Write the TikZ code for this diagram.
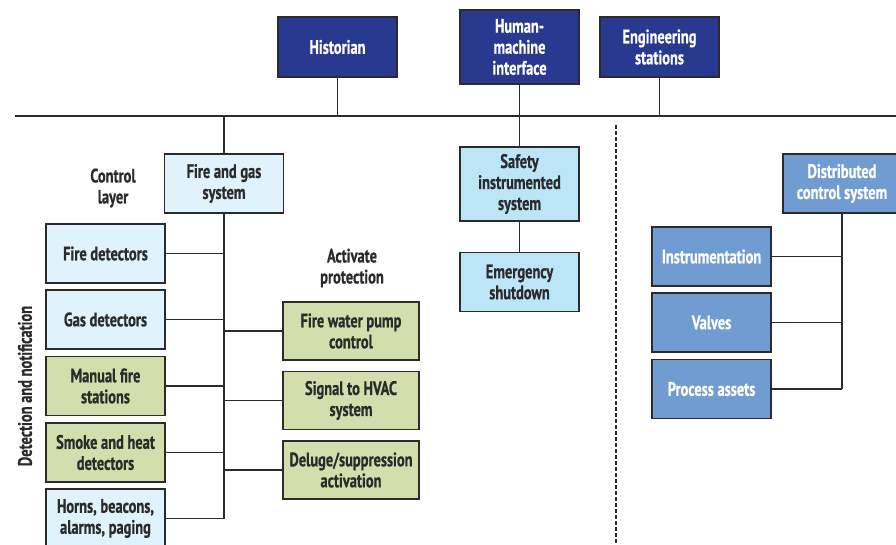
\documentclass[tikz,border=0pt]{standalone}
\usepackage{fontspec}
\newfontfamily\condfont{PT Sans}[FakeStretch=0.74,BoldFeatures={FakeBold=0.6}]
\usepackage{tikz}
\usetikzlibrary{arrows.meta}
\definecolor{topblue}{HTML}{2A3990}
\definecolor{paleblue}{HTML}{E0F2FB}
\definecolor{sisblue}{HTML}{BDE5F8}
\definecolor{fgreen}{HTML}{D2DEAB}
\definecolor{dcsblue}{HTML}{709CD2}
\definecolor{edge}{HTML}{2B2B2B}

\begin{document}
\begin{tikzpicture}[x=1pt,y=-1pt,>=Stealth,
        box/.style={draw=edge,line width=1.8pt,align=center,inner sep=0pt,
                font=\condfont\bfseries\fontsize{19.5}{21}\selectfont},
        topbox/.style={box,fill=topblue,text=white,minimum width=119pt,minimum height=60pt},
        pale/.style={box,fill=paleblue,text=edge,minimum width=119pt,minimum height=59pt},
        green/.style={box,fill=fgreen,text=edge,minimum width=136pt,minimum height=58pt},
        dcs/.style={box,fill=dcsblue,text=white,minimum width=119pt,minimum height=59pt},
        label/.style={align=center,inner sep=0pt,text=edge,
                font=\condfont\bfseries\fontsize{19.5}{21}\selectfont},
        wire/.style={draw=edge,line width=1.6pt}]
        \useasboundingbox (0,0) rectangle (896,544);
        \node [topbox] (hist) at (337.5,47) {Historian};
        \node [topbox,minimum height=74pt] (hmi) at (519.5,47) {Human-\\machine\\interface};
        \node [topbox] (eng) at (659.5,47) {Engineering\\stations};
        \coordinate (busl) at (15,116);
        \coordinate (busr) at (900,116);
        \draw [wire,line width=2.6pt] (busl) -- (busr);
        \draw [wire] (hist.south) -- (hist.south |- busl);
        \draw [wire] (eng.south) -- (eng.south |- busl);
        \node [pale] (fg) at (224,183.5) {Fire and gas\\system};
        \node [pale] (fire) at (105.5,253.5) {Fire detectors};
        \node [pale] (gas) at (105.5,319.5) {Gas detectors};
        \node [pale,fill=fgreen] (manual) at (105.5,386) {Manual fire\\stations};
        \node [pale,fill=fgreen] (smoke) at (105.5,452.5) {Smoke and heat\\detectors};
        \node [pale] (horns) at (105.5,518.5) {Horns, beacons,\\alarms, paging};
        \node [green] (pump) at (351,331) {Fire water pump\\control};
        \node [green] (hvac) at (351,400.5) {Signal to HVAC\\system};
        \node [green] (deluge) at (351,470) {Deluge/suppression\\activation};
        \node [label] (ctrl) at (113,188) {Control\\layer};
        \node [label] (act) at (352,268) {Activate\\protection};
        \node [label,rotate=90] (detect) at (25,386) {Detection and notification};
        \draw [wire] (fg.north) -- (fg.north |- busl);
        \draw [wire] (fg.south) -- (fg.south |- horns.east);
        \draw [wire] (fire.east) -- (fire.east -| fg.south);
        \draw [wire] (gas.east) -- (gas.east -| fg.south);
        \draw [wire] (manual.east) -- (manual.east -| fg.south);
        \draw [wire] (smoke.east) -- (smoke.east -| fg.south);
        \draw [wire] (horns.east) -- (horns.east -| fg.south);
        \draw [wire] (pump.west) -- (pump.west -| fg.south);
        \draw [wire] (hvac.west) -- (hvac.west -| fg.south);
        \draw [wire] (deluge.west) -- (deluge.west -| fg.south);
        \node [pale,fill=sisblue,minimum height=74pt] (sis) at (519.5,184) {Safety\\instrumented\\system};
        \node [pale,fill=sisblue] (esd) at (519.5,282) {Emergency\\shutdown};
        \draw [wire] (hmi.south) -- (sis.north);
        \draw [wire] (sis.south) -- (esd.north);
        \coordinate (sept) at (616,125);
        \coordinate (sepb) at (616,544);
        \draw [edge,line width=2.2pt,dash pattern=on 4pt off 2pt] (sept) -- (sepb);
        \node [dcs,minimum width=118pt] (dcsys) at (842,183.5) {Distributed\\control system};
        \node [dcs] (instr) at (711.5,256.5) {Instrumentation};
        \node [dcs] (valves) at (711.5,322.5) {Valves};
        \node [dcs] (assets) at (711.5,389) {Process assets};
        \draw [wire] (dcsys.south) -- (dcsys.south |- assets.east);
        \draw [wire] (instr.east) -- (instr.east -| dcsys.south);
        \draw [wire] (valves.east) -- (valves.east -| dcsys.south);
        \draw [wire] (assets.east) -- (assets.east -| dcsys.south);
        \end{tikzpicture}
\end{document}
